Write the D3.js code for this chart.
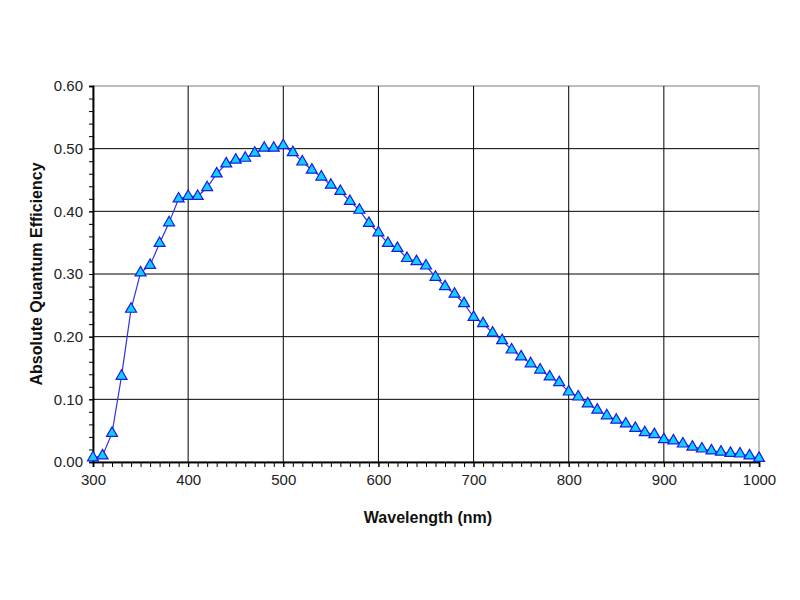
<!DOCTYPE html>
<html><head><meta charset="utf-8">
<script src="https://cdn.jsdelivr.net/npm/d3@7/dist/d3.min.js"></script>
<style>body{margin:0;background:#fff}svg{display:block}</style>
</head><body>
<svg id="c" width="800" height="600"></svg>
<script>
const wavelengths = d3.range(300, 1001, 10);
const qe = [0.007,0.010,0.046,0.137,0.244,0.302,0.314,0.349,0.382,0.420,
  0.424,0.424,0.438,0.460,0.476,0.482,0.485,0.493,0.501,0.501,
  0.505,0.494,0.479,0.466,0.455,0.442,0.432,0.416,0.402,0.381,
  0.366,0.349,0.341,0.325,0.320,0.313,0.295,0.280,0.268,0.253,
  0.231,0.221,0.206,0.194,0.179,0.168,0.157,0.147,0.136,0.127,
  0.112,0.104,0.093,0.083,0.074,0.067,0.061,0.054,0.047,0.044,
  0.036,0.034,0.029,0.024,0.021,0.018,0.016,0.014,0.013,0.010,0.006];
const xTicks = [300,400,500,600,700,800,900,1000];
const yTicks = [0,0.1,0.2,0.3,0.4,0.5,0.6];
const xTitle = "Wavelength (nm)";
const yTitle = "Absolute Quantum Efficiency";

const svg = d3.select("#c");
const L=93, R=759, T=86, B=462;
const x = d3.scaleLinear().domain([300,1000]).range([L,R]);
const y = d3.scaleLinear().domain([0,0.6]).range([B,T]);
const font = "'Liberation Sans', Arial, sans-serif";

svg.append("rect").attr("x",L).attr("y",T).attr("width",R-L).attr("height",B-T)
  .attr("fill","none").attr("stroke","#a8a8a8").attr("stroke-width",1.5);

svg.append("g").selectAll("line").data(xTicks.slice(1,-1)).join("line")
  .attr("x1",d=>x(d)).attr("x2",d=>x(d)).attr("y1",T).attr("y2",B)
  .attr("stroke","#000").attr("stroke-width",1);
svg.append("g").selectAll("line").data(yTicks.slice(1,-1)).join("line")
  .attr("x1",L).attr("x2",R).attr("y1",d=>y(d)).attr("y2",d=>y(d))
  .attr("stroke","#000").attr("stroke-width",1);

const xMinor = d3.range(300,1001,10);
const yMinor = d3.range(0,0.6001,0.02);
const gx = svg.append("g").attr("transform",`translate(0,${B})`)
  .call(d3.axisBottom(x).tickValues(xMinor).tickSize(5).tickFormat(""));
const gx2 = svg.append("g").attr("transform",`translate(0,${B})`)
  .call(d3.axisBottom(x).tickValues(xTicks).tickSize(5).tickPadding(7).tickFormat(d3.format("d")));
const gy = svg.append("g").attr("transform",`translate(${L},0)`)
  .call(d3.axisLeft(y).tickValues(yMinor).tickSize(4).tickFormat(""));
const gy2 = svg.append("g").attr("transform",`translate(${L},0)`)
  .call(d3.axisLeft(y).tickValues(yTicks).tickSize(4).tickPadding(6).tickFormat(d3.format(".2f")));
[gx,gx2,gy,gy2].forEach(g=>{
  g.select(".domain").attr("stroke","#000").attr("stroke-width",1.5);
  g.selectAll(".tick line").attr("stroke","#000");
  g.selectAll("text").attr("font-family",font).attr("font-size",15).attr("fill","#222");
});

const pts = wavelengths.map((w,i)=>[w,qe[i]]);
svg.append("path").datum(pts)
  .attr("d", d3.line().x(d=>x(d[0])).y(d=>y(d[1])))
  .attr("fill","none").attr("stroke","#3333dd").attr("stroke-width",1.2);

const tri = d3.symbol().type(d3.symbolTriangle).size(52);
svg.append("g").selectAll("path").data(pts).join("path")
  .attr("transform",d=>`translate(${x(d[0])},${y(d[1])})`)
  .attr("d",tri)
  .attr("fill","#10d0ff").attr("stroke","#1a1ae0").attr("stroke-width",1.2);

svg.append("text").attr("x",(L+R)/2+2).attr("y",523).attr("text-anchor","middle")
  .attr("font-family",font).attr("font-size",16).attr("font-weight","bold").attr("fill","#111")
  .text(xTitle);
svg.append("text").attr("transform",`translate(42,${(T+B)/2}) rotate(-90)`)
  .attr("text-anchor","middle")
  .attr("font-family",font).attr("font-size",16).attr("font-weight","bold").attr("fill","#111")
  .text(yTitle);
</script>
</body></html>
